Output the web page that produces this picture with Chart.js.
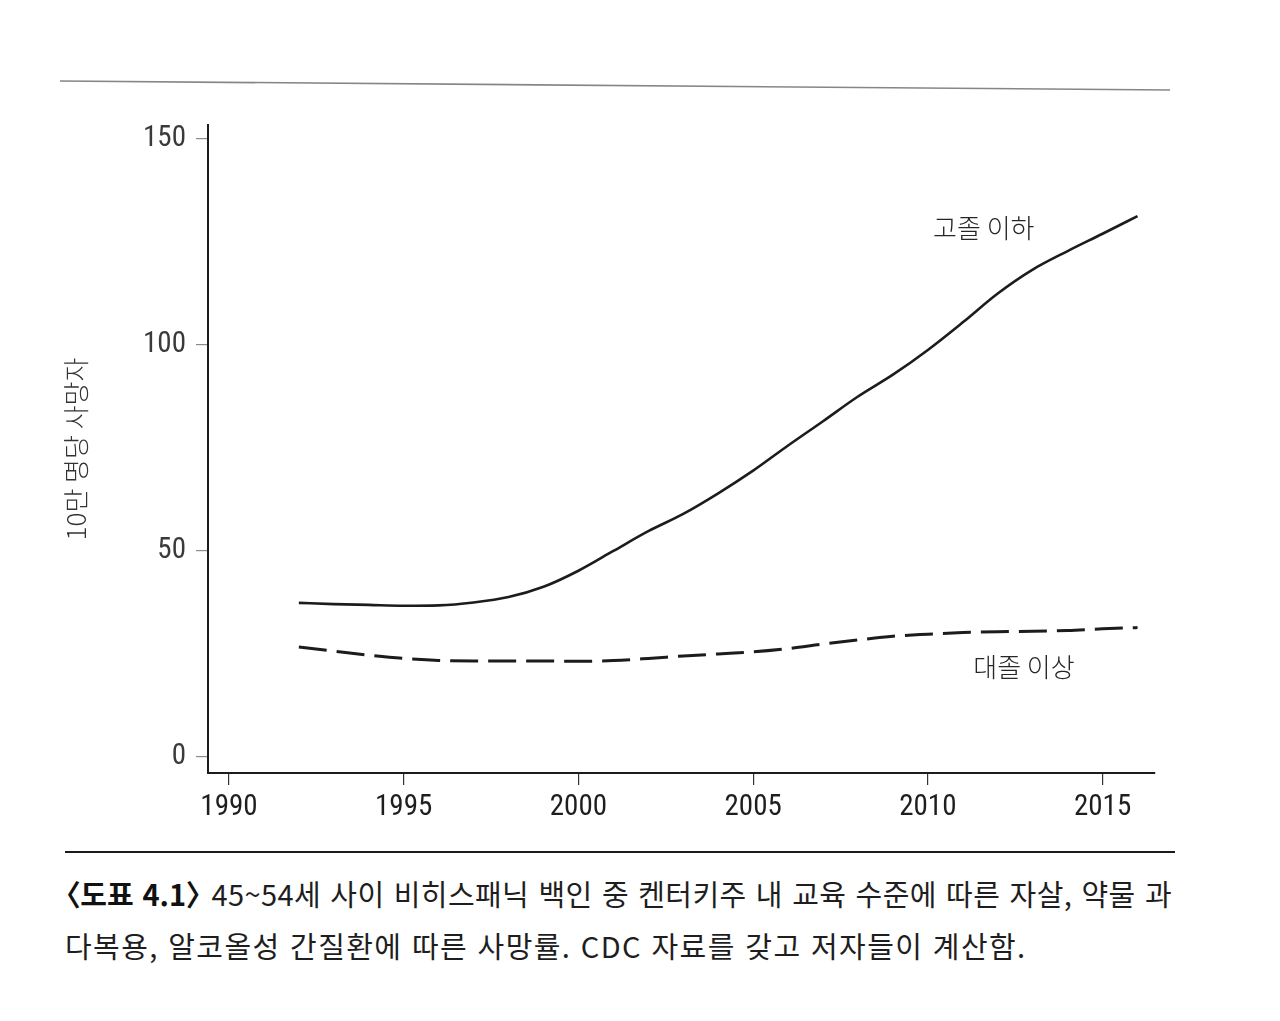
<!DOCTYPE html>
<html lang="ko">
<head>
<meta charset="utf-8">
<title>도표 4.1</title>
<script src="https://cdn.jsdelivr.net/npm/chart.js@4.4.1/dist/chart.umd.min.js"></script>
<style>
  html, body { margin: 0; padding: 0; background: #fff; }
  body { width: 1280px; height: 1021px; position: relative; overflow: hidden; }
  #chartBox { position: absolute; left: 0; top: 0; width: 1280px; height: 860px; }
  #rules { position: absolute; left: 0; top: 0; }
  .caption {
    position: absolute; left: 65px;
    font-family: "Noto Sans CJK KR", "Noto Sans", sans-serif;
    font-size: 29px; color: #1e1e1e; white-space: nowrap;
  }
  #cap1 { top: 872px; width: 1107px; letter-spacing: 0.4px; text-align: justify; text-align-last: justify; }
  #cap2 { top: 924px; letter-spacing: 1.4px; }
  .cap-no { font-weight: bold; color: #111; letter-spacing: 0; }
  .br { font-feature-settings: "palt"; }
</style>
</head>
<body>
<svg id="rules" width="1280" height="1021">
  <line x1="60" y1="81" x2="1170" y2="90" stroke="#8a8580" stroke-width="1.6"/>
  <line x1="65" y1="852" x2="1175" y2="852" stroke="#1a1a1a" stroke-width="2"/>
</svg>
<div id="chartBox"><canvas id="chartLine"></canvas></div>
<div class="caption" id="cap1"><span class="cap-no"><span class="br">〈</span>도표 4.1<span class="br">〉</span></span> 45~54세 사이 비히스패닉 백인 중 켄터키주 내 교육 수준에 따른 자살, 약물 과</div>
<div class="caption" id="cap2">다복용, 알코올성 간질환에 따른 사망률. CDC 자료를 갖고 저자들이 계산함.</div>

<script>
// ---------- Datos ----------
const YEARS = [1992, 1993, 1994, 1995, 1996, 1997, 1998, 1999, 2000, 2001, 2002, 2003, 2004,
               2005, 2006, 2007, 2008, 2009, 2010, 2011, 2012, 2013, 2014, 2015, 2016];

// 고졸 이하 (línea continua)
const HIGH_SCHOOL = [37.4, 37.1, 36.9, 36.7, 36.8, 37.5, 38.8, 41.3, 45.2, 50.0, 54.8, 59.0, 64.0,
                     69.5, 75.6, 81.5, 87.5, 92.8, 98.8, 105.5, 112.5, 118.3, 122.8, 127.0, 131.3];

// 대졸 이상 (línea discontinua)
const COLLEGE = [26.7, 25.7, 24.7, 23.9, 23.4, 23.3, 23.3, 23.3, 23.2, 23.4, 23.9, 24.5, 25.0,
                 25.5, 26.3, 27.4, 28.4, 29.3, 29.8, 30.2, 30.4, 30.5, 30.7, 31.1, 31.4];

const X_TICKS = [1990, 1995, 2000, 2005, 2010, 2015];
const Y_TICKS = [0, 50, 100, 150];

const Y_TITLE = "10만 명당 사망자";
const SERIES_NAMES = ["고졸 이하", "대졸 이상"];
// dónde va cada etiqueta, en unidades de los ejes [año, valor]
const LABEL_AT = [[2011.6, 128.4], [2012.75, 21.8]];

const INK = "#1c1c1c";
const NUM_FONT = '"Roboto Condensed", "DejaVu Sans Condensed", Roboto, sans-serif';
const KR_FONT = '"Noto Sans CJK KR", "Noto Sans", sans-serif';

let charts = { line: null };

function toPoints(values) {
  return YEARS.map((yr, i) => ({ x: yr, y: values[i] }));
}

// ---------- Etiquetas de series ----------
const seriesLabels = {
  id: "seriesLabels",
  afterDatasetsDraw(chart) {
    const { ctx, scales: { x, y } } = chart;
    ctx.save();
    ctx.font = `300 26px ${KR_FONT}`;
    ctx.fillStyle = "#262626";
    ctx.textAlign = "center";
    ctx.textBaseline = "middle";
    SERIES_NAMES.forEach((name, i) => {
      const [yr, v] = LABEL_AT[i];
      ctx.fillText(name, x.getPixelForValue(yr), y.getPixelForValue(v));
    });
    ctx.restore();
  }
};

function initCharts() {
  const ctxLine = document.getElementById("chartLine");

  charts.line = new Chart(ctxLine, {
    type: "line",
    data: {
      datasets: [
        {
          label: SERIES_NAMES[0],
          data: toPoints(HIGH_SCHOOL),
          borderColor: INK,
          borderWidth: 2.6,
          pointRadius: 0,
          tension: 0.35,
          cubicInterpolationMode: "monotone"
        },
        {
          label: SERIES_NAMES[1],
          data: toPoints(COLLEGE),
          borderColor: INK,
          borderWidth: 3,
          borderDash: [28, 10],
          pointRadius: 0,
          tension: 0.35,
          cubicInterpolationMode: "monotone"
        }
      ]
    },
    options: {
      responsive: true,
      maintainAspectRatio: false,
      animation: false,
      layout: { padding: { top: 125, right: 125, left: 0, bottom: 0 } },
      plugins: {
        legend: { display: false },
        tooltip: { enabled: false }
      },
      scales: {
        x: {
          type: "linear",
          min: 1989.4,
          max: 2016.5,
          afterBuildTicks(scale) { scale.ticks = X_TICKS.map(v => ({ value: v })); },
          afterFit(scale) { scale.height = 87; },
          border: { display: true, color: INK, width: 2 },
          grid: { drawOnChartArea: false, drawTicks: true, tickLength: 12, tickColor: "#333", lineWidth: 1.2 },
          ticks: {
            padding: 5,
            color: "#1e1e1e",
            font: { family: NUM_FONT, size: 29, weight: "400" },
            callback: v => String(v)
          }
        },
        y: {
          min: -3.9,
          max: 153.4,
          afterBuildTicks(scale) { scale.ticks = Y_TICKS.map(v => ({ value: v })); },
          afterFit(scale) { scale.width = 208; },
          border: { display: true, color: INK, width: 2 },
          grid: { drawOnChartArea: false, drawTicks: true, tickLength: 12, tickColor: "#8c8c8c", lineWidth: 1.2 },
          ticks: {
            padding: 10,
            color: "#3a3a3a",
            font: { family: NUM_FONT, size: 29, weight: "400" },
            callback: v => String(v)
          },
          title: {
            display: true,
            text: Y_TITLE,
            color: "#333",
            font: { family: KR_FONT, size: 26, weight: "300" },
            padding: { top: 61, bottom: 0 }
          }
        }
      }
    },
    plugins: [seriesLabels]
  });
}

document.addEventListener("DOMContentLoaded", initCharts);
</script>
</body>
</html>
